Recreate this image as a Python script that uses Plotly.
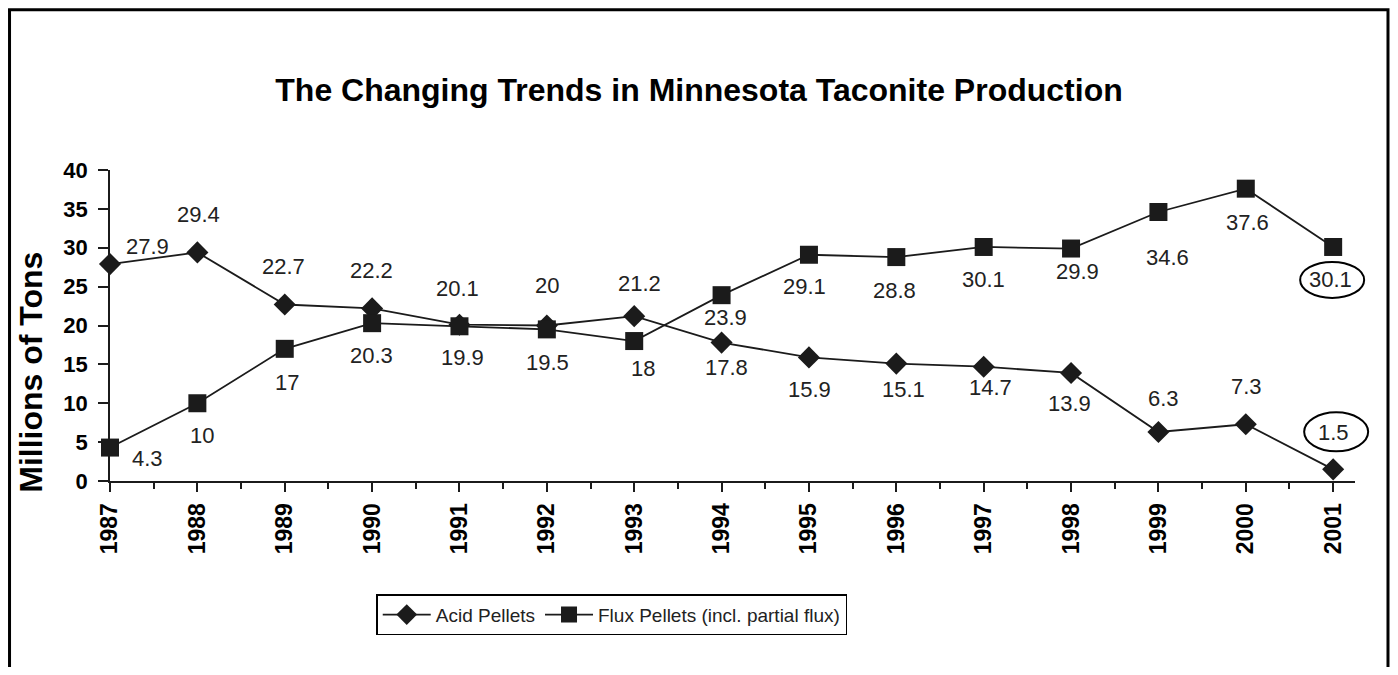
import plotly.graph_objects as go

years = list(range(1987, 2002))
acid = [27.9, 29.4, 22.7, 22.2, 20.1, 20, 21.2, 17.8, 15.9, 15.1, 14.7, 13.9, 6.3, 7.3, 1.5]
flux = [4.3, 10, 17, 20.3, 19.9, 19.5, 18, 23.9, 29.1, 28.8, 30.1, 29.9, 34.6, 37.6, 30.1]

# label offsets in pixels (dx, dy up)
acid_shift = [(37, 18), (1, 38), (-1, 38), (-1, 38), (-2, 36), (0, 40), (5, 33), (5, -25),
              (1, -32), (7, -26), (7, -21), (-2, -31), (5, 34), (1, 38), (0, 37)]
flux_shift = [(37, -11), (5, -32), (2, -34), (-1, -32), (3, -31), (1, -33), (9, -27), (4, -22),
              (-4, -32), (-2, -33), (0, -33), (6, -23), (9, -46), (2, -34), (-3, -33)]

X_RANGE = [1987, 2001.25]
Y_RANGE = [0, 40]

FONT = "Liberation Sans, Arial, sans-serif"
INK = "#1b1b1b"

fig = go.Figure()

fig.add_trace(go.Scatter(x=years, y=acid, mode='lines+markers', name='Acid Pellets',
                         line=dict(color=INK, width=1.8),
                         marker=dict(symbol='diamond', size=17, color=INK),
                         cliponaxis=False))
fig.add_trace(go.Scatter(x=years, y=flux, mode='lines+markers', name='Flux Pellets (incl. partial flux)',
                         line=dict(color=INK, width=1.8),
                         marker=dict(symbol='square', size=18, color=INK),
                         cliponaxis=False))

annotations = []
for yr, v, (dx, dy) in zip(years, acid, acid_shift):
    annotations.append(dict(x=yr, y=v, text=f'{v:g}', showarrow=False, xshift=dx, yshift=dy,
                            font=dict(family=FONT, size=22, color='#222222')))
for yr, v, (dx, dy) in zip(years, flux, flux_shift):
    annotations.append(dict(x=yr, y=v, text=f'{v:g}', showarrow=False, xshift=dx, yshift=dy,
                            font=dict(family=FONT, size=22, color='#222222')))

# y axis title, placed lower than centre like the original
annotations.append(dict(xref='paper', yref='paper', x=0, y=0.348, xshift=-79,
                        xanchor='center', yanchor='middle',
                        text='<b>Millions of Tons</b>', textangle=-90, showarrow=False,
                        font=dict(family=FONT, size=32, color='black')))


def to_paper_x(v):
    return (v - X_RANGE[0]) / (X_RANGE[1] - X_RANGE[0])


def to_paper_y(v):
    return (v - Y_RANGE[0]) / (Y_RANGE[1] - Y_RANGE[0])


shapes = [
    # ellipses round the 2001 labels (paper refs so they are not clipped)
    dict(type='circle', xref='paper', yref='paper', xsizemode='pixel', ysizemode='pixel',
         xanchor=to_paper_x(years[-1]), yanchor=to_paper_y(flux[-1]),
         x0=-33, x1=31, y0=-51, y1=-15, line=dict(color='black', width=2)),
    dict(type='circle', xref='paper', yref='paper', xsizemode='pixel', ysizemode='pixel',
         xanchor=to_paper_x(years[-1]), yanchor=to_paper_y(acid[-1]),
         x0=-29, x1=35, y0=18, y1=57, line=dict(color='black', width=2)),
    # outer frame
    dict(type='rect', xref='paper', yref='paper', x0=-0.0807, x1=1.0265, y0=-0.67, y1=1.5152,
         line=dict(color='black', width=3)),
]

half_years = [y + 0.5 for y in years[:-1]]

fig.update_layout(
    title=dict(text='<b>The Changing Trends in Minnesota Taconite Production</b>',
               x=0.5, xanchor='center', y=0.8756, yanchor='middle',
               font=dict(family=FONT, size=32, color='black')),
    width=1382, height=659,
    margin=dict(l=102, r=35, t=162, b=185.5),
    paper_bgcolor='white', plot_bgcolor='white',
    font=dict(family=FONT, color='black'),
    xaxis=dict(range=X_RANGE, tickvals=years, ticktext=[str(y) for y in years],
               tickangle=-90, ticks='outside', ticklen=9, tickwidth=1.5, tickcolor=INK,
               showline=True, linecolor=INK, linewidth=1.8, showgrid=False, zeroline=False,
               ticklabelstandoff=2,
               tickfont=dict(family=FONT, size=23, color='black', weight='bold'),
               minor=dict(tickvals=half_years, ticks='outside', ticklen=6, tickwidth=1.5,
                          tickcolor=INK, showgrid=False)),
    xaxis2=dict(matches='x', overlaying='x', anchor='y', side='bottom',
                tickvals=half_years, ticks='inside', ticklen=6, tickwidth=1.5, tickcolor=INK,
                showticklabels=False, showline=False, showgrid=False, zeroline=False),
    yaxis=dict(range=Y_RANGE, dtick=5, ticks='outside', ticklen=10, tickwidth=1.5, tickcolor=INK,
               showline=True, linecolor=INK, linewidth=1.8, showgrid=False, zeroline=False,
               ticklabelstandoff=6,
               tickfont=dict(family=FONT, size=22, color='black', weight='bold')),
    legend=dict(orientation='h', x=0.403, xanchor='center', y=-0.364, yanchor='top',
                bordercolor='black', borderwidth=1.5, bgcolor='white',
                font=dict(family=FONT, size=19, color='#222222'),
                itemwidth=48, tracegroupgap=0),
    annotations=annotations,
    shapes=shapes,
)

fig.write_html("out.html")
